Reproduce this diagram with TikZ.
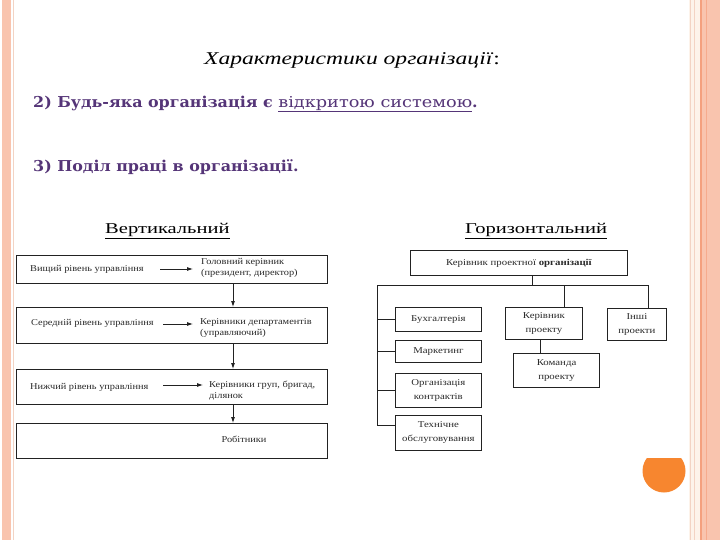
\documentclass[tikz,border=0pt]{standalone}
\usepackage{fontspec}
\setmainfont{Liberation Serif}
\newfontfamily\purpfont[FakeStretch=1.06]{DejaVu Serif}
\newfontfamily\linkfont[FakeStretch=1.18]{DejaVu Serif}
\newfontfamily\titlefont[FakeStretch=1.31]{Liberation Serif}
\newfontfamily\headfont[FakeStretch=1.37]{Liberation Serif}
\newfontfamily\lchart[FakeStretch=1.15]{Liberation Serif}
\newfontfamily\rchart[FakeStretch=1.2]{Liberation Serif}
\usetikzlibrary{arrows.meta}
\definecolor{pinkst}{HTML}{F9C4AE}
\definecolor{peachln}{HTML}{F3D3C3}
\definecolor{orangeln}{HTML}{F4A07E}
\definecolor{creamst}{HTML}{FDF3EA}
\definecolor{purp}{HTML}{553578}
\definecolor{boxline}{HTML}{222222}
\definecolor{txtgray}{HTML}{2A2A2A}
\definecolor{dotor}{HTML}{F7862F}
\tikzset{
  box/.style={draw=boxline, line width=0.8pt, inner sep=0pt, anchor=north west},
  ctext/.style={font=\lchart\fontsize{9}{11}\selectfont, text=txtgray, align=left, inner sep=0pt},
  rtext/.style={font=\rchart\fontsize{9}{14}\selectfont, text=txtgray, align=center, inner sep=0pt},
  arr/.style={-{Latex[length=6pt,width=4pt]}, line width=0.8pt, draw=boxline},
  ln/.style={line width=0.8pt, draw=boxline},
  head/.style={font=\headfont\fontsize{15}{17}\selectfont, text=black, inner sep=0pt},
  purpline/.style={font=\purpfont\bfseries\fontsize{15}{18}\selectfont, text=purp, anchor=west, inner sep=0pt},
}
\begin{document}
\begin{tikzpicture}[x=1pt,y=-1pt]
\useasboundingbox (0,0) rectangle (720,540);
\fill[white] (0,0) rectangle (720,540);
% frame decoration left
\fill[pinkst] (2,0) rectangle (11,540);
\draw[peachln, line width=0.8pt] (13.5,0) -- (13.5,540);
% frame decoration right
\fill[creamst] (689,0) rectangle (700,540);
\draw[peachln, line width=1pt] (690,0) -- (690,540);
\draw[peachln, line width=0.8pt] (694,0) -- (694,540);
\fill[pinkst] (702,0) rectangle (720,540);
\draw[orangeln, line width=2pt] (701,0) -- (701,540);
\draw[orangeln!70!pinkst, line width=0.6pt] (706,0) -- (706,540);

% texts
\node[font=\titlefont\itshape\fontsize{18}{20}\selectfont, inner sep=0pt] (title) at (352,60) {Характеристики організації\textup{:}};
\node[purpline] (l2) at (33,104) {2) Будь-яка організація є {\linkfont\mdseries\underline{відкритою системою}}.};
\node[purpline] (l3) at (33,167) {3) Поділ праці в організації.};
\node[head, anchor=west] (hv) at (105,231) {\underline{Вертикальний}};
\node[head, anchor=west] (hh) at (465,231) {\underline{Горизонтальний}};

% left chart
\coordinate (vx) at (233,0);
\node[box, minimum width=311pt, minimum height=28pt] (b1) at (16,255) {};
\node[box, minimum width=311pt, minimum height=36pt] (b2) at (16,307) {};
\node[box, minimum width=311pt, minimum height=35pt] (b3) at (16,369) {};
\node[box, minimum width=311pt, minimum height=35pt] (b4) at (16,423) {};

\node[ctext, anchor=west] (t1a) at (30,269) {Вищий рівень управління};
\node[ctext, anchor=west] (t1b) at (201,268) {Головний керівник\\(президент, директор)};
\node[ctext, anchor=west] (t2a) at (31,323) {Середній рівень управління};
\node[ctext, anchor=west] (t2b) at (200,328) {Керівники департаментів\\(управляючий)};
\node[ctext, anchor=west] (t3a) at (30,387) {Нижчий рівень управління};
\node[ctext, anchor=west] (t3b) at (209,391) {Керівники груп, бригад,\\ділянок};
\node[ctext] (t4) at (244,439) {Робітники};

\coordinate (a1s) at (160,269); \coordinate (a1e) at (193,269);
\coordinate (a2s) at (163,324); \coordinate (a2e) at (193,324);
\coordinate (a3s) at (163,385); \coordinate (a3e) at (203,385);
\draw[arr] (a1s) -- (a1e);
\draw[arr] (a2s) -- (a2e);
\draw[arr] (a3s) -- (a3e);
\draw[arr] (b1.south -| vx) -- (b2.north -| vx);
\draw[arr] (b2.south -| vx) -- (b3.north -| vx);
\draw[arr] (b3.south -| vx) -- (b4.north -| vx);

% right chart
\node[box, minimum width=217pt, minimum height=25pt] (r0) at (410,250) {};
\node[rtext] (r0t) at (r0.center) {Керівник проектної \textbf{організації}};
\node[box, minimum width=86pt, minimum height=24pt] (rb) at (395,307) {};
\node[rtext] at (rb.center) {Бухгалтерія};
\node[box, minimum width=86pt, minimum height=22pt] (rm) at (395,340) {};
\node[rtext] at (rm.center) {Маркетинг};
\node[box, minimum width=86pt, minimum height=34pt] (ro) at (395,373) {};
\node[rtext] at (ro.center) {Організація\\контрактів};
\node[box, minimum width=86pt, minimum height=35pt] (rt) at (395,415) {};
\node[rtext] at (rt.center) {Технічне\\обслуговування};
\node[box, minimum width=77pt, minimum height=32pt] (rk) at (505,307) {};
\node[rtext] at (rk.center) {Керівник\\проекту};
\node[box, minimum width=59pt, minimum height=32pt] (ri) at (607,308) {};
\node[rtext] at (ri.center) {Інші\\проекти};
\node[box, minimum width=86pt, minimum height=34pt, line width=1.1pt] (rc) at (513,353) {};
\node[rtext] at (rc.center) {Команда\\проекту};

\coordinate (busL) at (377,285);
\coordinate (busR) at (648,285);
\coordinate (busT) at (532,285);
\coordinate (busM) at (564,285);
\coordinate (leftB) at (377,425);
\draw[ln] (r0.south -| busT) -- (busT);
\draw[ln] (busL) -- (busR);
\draw[ln] (busL) -- (leftB);
\draw[ln] (busL |- rb.west) -- (rb.west);
\draw[ln] (busL |- rm.west) -- (rm.west);
\draw[ln] (busL |- ro.west) -- (ro.west);
\draw[ln] (leftB) -- (leftB -| rt.west);
\draw[ln] (busM) -- (busM |- rk.north);
\draw[ln] (busR) -- (busR |- ri.north);
\coordinate (kx) at (540,0);
\draw[ln] (rk.south -| kx) -- (rc.north -| kx);

% orange dot
\begin{scope}
\clip (630,458) rectangle (700,500);
\fill[dotor] (664,471) circle (21.5);
\end{scope}
\end{tikzpicture}
\end{document}
